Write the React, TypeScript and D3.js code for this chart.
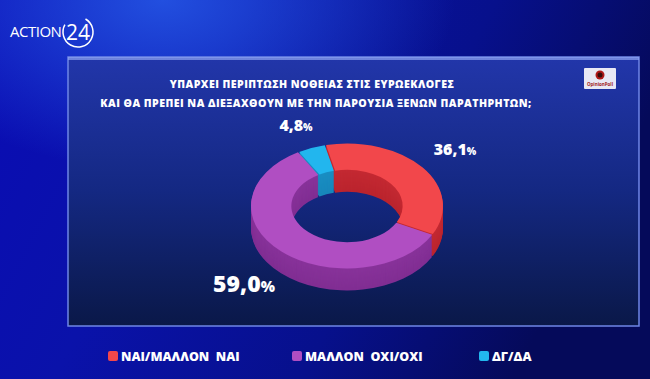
import React from "react";
import * as d3 from "d3";

const categories = ["ΝΑΙ/ΜΑΛΛΟΝ  ΝΑΙ", "ΜΑΛΛΟΝ  ΟΧΙ/ΟΧΙ", "ΔΓ/ΔΑ"];
const values = [36.1, 59.0, 4.8];
const valueLabels = ["36,1", "59,0", "4,8"];
const topColors = ["#f2474b", "#b04ec2", "#22b6ee"];
const sideColors = ["#b8222c", "#7e2c90", "#1784b8"];
const titleLines = [
  "ΥΠΑΡΧΕΙ ΠΕΡΙΠΤΩΣΗ ΝΟΘΕΙΑΣ ΣΤΙΣ ΕΥΡΩΕΚΛΟΓΕΣ",
  "ΚΑΙ ΘΑ ΠΡΕΠΕΙ ΝΑ ΔΙΕΞΑΧΘΟΥΝ ΜΕ ΤΗΝ ΠΑΡΟΥΣΙΑ ΞΕΝΩΝ ΠΑΡΑΤΗΡΗΤΩΝ;",
];

const W = 650;
const H = 379;
const cx = 347;
const cy = 206;
const R = 96;
const ratio = 0.65;
const innerFrac = 0.58;
const depth = 22;
const startDeg = -13;

export default function App() {
  const pie = d3
    .pie<number>()
    .sort(null)
    .value((d) => d)
    .startAngle((startDeg * Math.PI) / 180)
    .endAngle(((startDeg + 360) * Math.PI) / 180);
  const arcs = pie(values);
  const arc = d3
    .arc<d3.PieArcDatum<number>>()
    .innerRadius(R * innerFrac)
    .outerRadius(R)
    .padAngle(0.012);

  const layers: number[] = [];
  for (let i = depth; i >= 1; i -= 1) layers.push(i);

  const labelPos = [
    { x: 455, y: 155 },
    { x: 244, y: 292 },
    { x: 296, y: 131 },
  ];

  const legendX = [108, 292, 479];

  return (
    <svg
      width={W}
      height={H}
      style={{ position: "absolute", left: 0, top: 0, display: "block" }}
      fontFamily="'Open Sans', 'DejaVu Sans', sans-serif"
    >
      <defs>
        <linearGradient id="bg" x1="0" y1="0" x2="1" y2="0.3">
          <stop offset="0" stopColor="#0a0cb4" />
          <stop offset="0.35" stopColor="#0a12aa" />
          <stop offset="0.7" stopColor="#07108c" />
          <stop offset="1" stopColor="#050a5a" />
        </linearGradient>
        <radialGradient id="glow" cx="0.25" cy="0" r="0.45">
          <stop offset="0" stopColor="#2a64f0" stopOpacity="0.75" />
          <stop offset="1" stopColor="#2a64f0" stopOpacity="0" />
        </radialGradient>
        <linearGradient id="panel" x1="0" y1="0" x2="0" y2="1">
          <stop offset="0" stopColor="#2236aa" />
          <stop offset="0.5" stopColor="#142882" />
          <stop offset="1" stopColor="#0a1848" />
        </linearGradient>
      </defs>
      <rect x={0} y={0} width={W} height={H} fill="url(#bg)" />
      <rect x={0} y={0} width={W} height={H} fill="url(#glow)" />

      {/* logo */}
      <text x={10} y={37} fill="#ffffff" fontSize={15} letterSpacing={-0.5} fontFamily="'Open Sans', sans-serif">
        ACTION
      </text>
      <circle cx={78} cy={32} r={15} fill="none" stroke="#ffffff" strokeWidth={1.5} strokeDasharray="70 25" transform="rotate(-60 78 32)" />
      <text x={78} y={40} fill="#ffffff" fontSize={21} textAnchor="middle" fontFamily="'Open Sans', sans-serif">
        24
      </text>

      {/* panel */}
      <rect x={68} y={57} width={571} height={269} fill="url(#panel)" stroke="#6f86e6" strokeWidth={1.5} />
      <rect x={68} y={57} width={571} height={3} fill="#8fa4f2" opacity={0.7} />

      {/* opinion poll logo */}
      <rect x={584} y={68} width={32} height={21} fill="#e8e8f4" rx={1} />
      <circle cx={600} cy={75} r={4.5} fill="#b01818" />
      <circle cx={600} cy={75} r={2.5} fill="#3a0a0a" />
      <text x={600} y={86} fontSize={4.5} fill="#a01818" textAnchor="middle" fontWeight="bold">
        OpinionPoll
      </text>

      {/* title */}
      {titleLines.map((t, i) => (
        <text
          key={i}
          x={i === 0 ? 312 : 316}
          y={88 + i * 19}
          fill="#ffffff"
          fontSize={10.6}
          fontWeight={800}
          letterSpacing={0.45}
          textAnchor="middle"
        >
          {t}
        </text>
      ))}

      {/* donut: extruded side */}
      <g transform={`translate(${cx},${cy})`}>
        {layers.map((dy) => (
          <g key={dy} transform={`translate(0,${dy}) scale(1,${ratio})`}>
            {arcs.map((a, i) => (
              <path
                key={i}
                d={arc(a) || ""}
                fill={d3.interpolateRgb(sideColors[i], topColors[i])(dy === 1 ? 0.2 : 0.05 + 0.15 * (1 - dy / depth))}
              />
            ))}
          </g>
        ))}
        <g transform={`scale(1,${ratio})`}>
          {arcs.map((a, i) => (
            <path key={i} d={arc(a) || ""} fill={topColors[i]} />
          ))}
        </g>
      </g>

      {/* value labels */}
      {arcs.map((a, i) => (
        <text
          key={i}
          x={labelPos[i].x}
          y={labelPos[i].y}
          fill="#ffffff"
          fontWeight={800}
          textAnchor="middle"
          fontSize={i === 1 ? 23 : 16}
        >
          {valueLabels[i]}
          <tspan fontSize={i === 1 ? 15 : 10}>%</tspan>
        </text>
      ))}

      {/* legend */}
      {categories.map((c, i) => (
        <g key={c}>
          <rect x={legendX[i]} y={351} width={10} height={10} rx={2} fill={topColors[i]} />
          <text
            x={legendX[i] + 13}
            y={361}
            fill="#ffffff"
            fontSize={12.5}
            fontWeight={800}
            style={{ whiteSpace: "pre" }}
          >
            {c}
          </text>
        </g>
      ))}
    </svg>
  );
}
